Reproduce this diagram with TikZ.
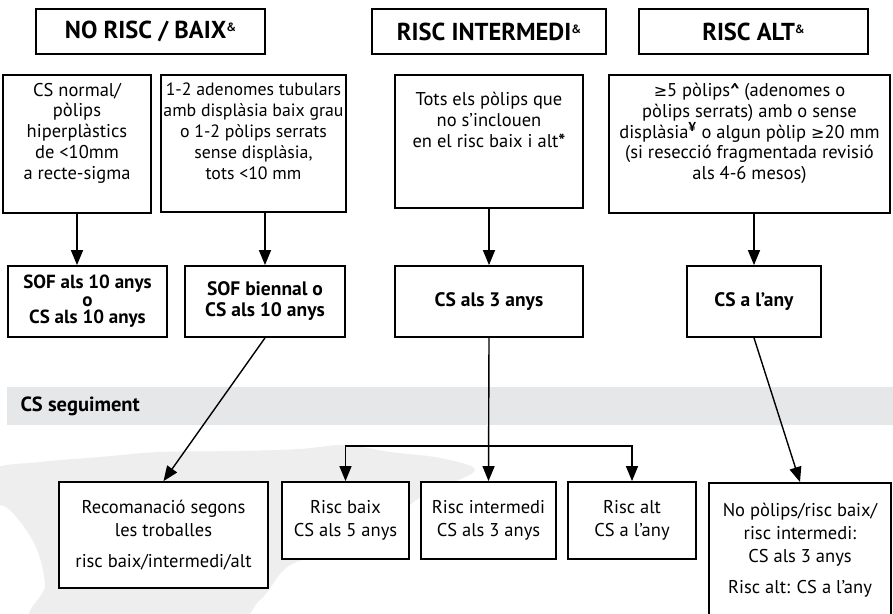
\documentclass[tikz,border=0pt]{standalone}
\usepackage{fontspec}
\setmainfont{PT Sans}
\newfontfamily\symfont{DejaVu Sans}
\usetikzlibrary{arrows.meta}
\definecolor{bandgray}{HTML}{E6E7E8}
\definecolor{mapgray}{HTML}{EEEEEF}
\newcommand{\ampsup}{\raisebox{0.55ex}{\fontsize{12}{12}\selectfont\&}}
\newcommand{\gesym}{{\symfont\fontsize{16}{16}\selectfont ≥}}

\begin{document}
\begin{tikzpicture}[x=1pt, y=-1pt, >={Triangle[length=15pt,width=12pt]},
    head node/.style={draw, fill=white, line width=1.8pt, minimum height=45, inner sep=0pt,
                      font=\bfseries\fontsize{24.5}{28}\selectfont},
    main node/.style={draw, fill=white, line width=1.8pt, align=center, inner sep=0pt,
                      font=\fontsize{18.5}{20.9}\selectfont},
    top node/.style={main node, anchor=north, inner ysep=8pt, text depth=25pt},
    low node/.style={main node, font=\fontsize{18.5}{23}\selectfont},
    bold node/.style={main node, font=\bfseries\fontsize{19.5}{21}\selectfont},
    link/.style={->, line width=1.4pt}]

  \clip (0,0) rectangle (893,613);
  \fill[white] (0,0) rectangle (893,613);

  % map shape behind the lower part
  \fill[mapgray] plot[smooth cycle, tension=0.6] coordinates {
    (-10,470) (40,462) (100,457) (160,452) (240,451) (300,449) (345,445)
    (390,452) (440,458) (475,470) (440,488) (410,505) (400,530) (340,552)
    (290,565) (260,600) (220,625) (40,625) (45,585) (35,545) (10,510) (-10,500)};

  % band
  \fill[bandgray] (7,387) rectangle (893,425);
  \node[anchor=west, font=\bfseries\fontsize{20.5}{23}\selectfont] (12) at (17,406) {CS seguiment};

  \node[head node, minimum width=229] (1) at (150.5,31.5) {NO RISC / BAIX\ampsup};
  \node[head node, minimum width=234] (2) at (489,31.5) {RISC INTERMEDI\ampsup};
  \node[head node, minimum width=229] (3) at (753.5,31.5) {RISC ALT\ampsup};

  \node[top node, minimum width=148] (4) at (77,74)
    {CS normal/\\pòlips\\hiperplàstics\\de <10mm\\a recte-sigma};
  \node[top node, minimum width=185, font=\fontsize{17.8}{20.9}\selectfont] (5) at (253.5,74)
    {1-2 adenomes tubulars\\amb displàsia baix grau\\o 1-2 pòlips serrats\\sense displàsia,\\tots <10 mm};
  \node[top node, minimum width=188, inner ysep=17pt, text depth=44pt] (6) at (489,74)
    {Tots els pòlips que\\no s’inclouen\\en el risc baix i alt\textbf{*}};
  \node[top node, minimum width=281] (7) at (749.5,74)
    {\gesym5 pòlips\textbf{\textasciicircum} (adenomes o\\pòlips serrats) amb o sense\\displàsia\textsuperscript{\textbf{¥}} o algun pòlip \gesym20 mm\\(si resecció fragmentada revisió\\als 4-6 mesos)};

  \node[bold node, minimum width=159, minimum height=71, font=\bfseries\fontsize{19}{17.5}\selectfont] (8) at (87.5,301.5)
    {SOF als 10 anys\\o\\CS als 10 anys};
  \node[bold node, minimum width=160, minimum height=71] (9) at (265,301.5)
    {SOF biennal o\\CS als 10 anys};
  \node[bold node, minimum width=188, minimum height=71] (10) at (489,301.5) {CS als 3 anys};
  \node[bold node, minimum width=134, minimum height=71] (11) at (754,301.5) {CS a l’any};

  \node[low node, minimum width=209, minimum height=106] (13) at (163.5,535)
    {Recomanació segons\\les troballes\\[8pt]risc baix/intermedi/alt};
  \node[low node, minimum width=127, minimum height=77] (14) at (345.5,520.5)
    {Risc baix\\CS als 5 anys};
  \node[low node, minimum width=135, minimum height=77] (15) at (488.5,520.5)
    {Risc intermedi\\CS als 3 anys};
  \node[low node, minimum width=128, minimum height=77] (16) at (632,520.5)
    {Risc alt\\CS a l’any};
  \node[low node, minimum width=182, inner ysep=20pt, text depth=60pt, anchor=north] (17) at (800,482)
    {No pòlips/risc baix/\\risc intermedi:\\CS als 3 anys\\[8pt]Risc alt: CS a l’any};

  \coordinate (b) at (489,446);

  \draw[link] (4.south) -- (4.south |- 8.north);
  \draw[link] (5.south -| 9.north) -- (9.north);
  \draw[link] (6.south) -- (10.north);
  \draw[link] (7.south -| 11.north) -- (11.north);
  \draw[link] (9.south) -- (13.north);
  \draw[link] (10.south) -- (15.north);
  \draw[link] (b) -| (14.north);
  \draw[link] (b) -| (16.north);
  \draw[link] (11.south) -- (17.north);

\end{tikzpicture}
\end{document}
